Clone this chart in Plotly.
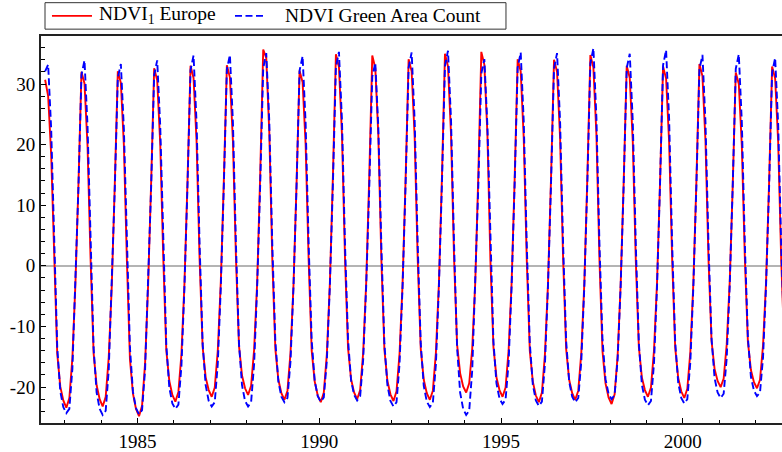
import plotly.graph_objects as go

# Monthly series, June 1982 - December 2002 (one row per year)
first_year = 1982
first_month = 6

ndvi1_europe = [
    30.7, 28.0, 18.3, 0.5, -14.5, -19.9, -22.2,                                          # 1982 (Jun-Dec)
    -23.4, -21.8, -15.2, -3.0, 13.4, 32.0, 30.1, 19.8, 1.2, -14.4, -19.7, -22.0,        # 1983
    -23.2, -21.6, -15.1, -3.4, 13.5, 32.1, 30.2, 19.9, 0.8, -15.4, -21.1, -23.6,        # 1984
    -24.8, -23.1, -16.1, -3.2, 13.7, 32.6, 30.6, 20.2, 1.4, -13.9, -19.0, -21.3,        # 1985
    -22.4, -20.8, -14.6, -2.9, 13.9, 33.0, 31.0, 20.5, 1.0, -13.4, -18.4, -20.5,        # 1986
    -21.6, -20.1, -14.0, -2.6, 14.1, 33.1, 31.1, 20.5, 1.3, -13.2, -18.1, -20.2,        # 1987
    -21.3, -19.8, -13.8, -2.8, 15.0, 35.7, 34.3, 22.1, 1.1, -13.7, -18.8, -21.0,        # 1988
    -22.1, -20.6, -14.4, -3.1, 13.5, 32.2, 30.3, 20.0, 0.9, -14.0, -19.1, -21.4,        # 1989
    -22.5, -20.9, -14.6, -2.9, 14.7, 34.9, 32.8, 21.6, 1.2, -13.6, -18.7, -20.9,        # 1990
    -22.0, -20.5, -14.3, -2.7, 14.6, 34.7, 32.6, 21.5, 1.0, -13.8, -19.0, -21.2,        # 1991
    -22.3, -20.7, -14.5, -3.0, 14.3, 34.1, 32.1, 21.1, 1.1, -13.7, -18.8, -21.0,        # 1992
    -22.1, -20.6, -14.4, -2.9, 14.7, 35.0, 32.9, 21.7, 1.3, -13.0, -17.7, -19.9,        # 1993
    -20.9, -19.4, -13.6, -2.7, 14.8, 35.3, 33.2, 21.9, 0.9, -13.4, -18.4, -20.5,        # 1994
    -21.6, -20.1, -14.0, -2.8, 14.3, 34.1, 32.1, 21.1, 1.0, -14.0, -19.1, -21.4,        # 1995
    -22.5, -20.9, -14.6, -3.1, 14.3, 34.0, 32.0, 21.1, 1.2, -13.7, -18.8, -21.0,        # 1996
    -22.1, -20.6, -14.4, -2.9, 14.6, 34.8, 32.7, 21.6, 1.0, -14.1, -19.4, -21.7,        # 1997
    -22.8, -21.2, -14.8, -3.0, 13.9, 33.0, 31.0, 20.5, 0.8, -13.4, -18.4, -20.5,        # 1998
    -21.6, -20.1, -14.0, -2.8, 13.8, 32.9, 30.9, 20.4, 1.1, -13.5, -18.5, -20.7,        # 1999
    -21.8, -20.3, -14.2, -2.8, 14.0, 33.3, 31.3, 20.6, 1.0, -12.4, -17.0, -19.0,        # 2000
    -20.0, -18.6, -13.0, -2.6, 13.4, 31.9, 30.0, 19.8, 1.2, -12.5, -17.2, -19.2,        # 2001
    -20.2, -18.8, -13.1, -2.6, 13.8, 32.9, 30.9, 20.4, 1.0, -13.0, -17.9, -20.0,        # 2002
]

ndvi_green_area_count = [
    32.1, 33.2, 22.6, 3.3, -13.4, -20.7, -23.3,                                          # 1982 (Jun-Dec)
    -24.3, -23.6, -17.0, -3.6, 12.9, 31.5, 33.9, 23.1, 3.4, -13.5, -20.9, -23.6,        # 1983
    -24.6, -23.9, -17.2, -3.7, 12.7, 31.0, 33.3, 22.6, 3.3, -13.5, -20.8, -23.5,        # 1984
    -24.5, -23.8, -17.2, -3.7, 12.9, 31.5, 33.9, 23.1, 3.4, -13.0, -20.1, -22.7,        # 1985
    -23.6, -22.9, -16.5, -3.5, 13.2, 32.3, 34.7, 23.6, 3.5, -12.8, -19.7, -22.3,        # 1986
    -23.2, -22.5, -16.2, -3.5, 13.2, 32.4, 34.8, 23.7, 3.5, -12.8, -19.7, -22.3,        # 1987
    -23.2, -22.5, -16.2, -3.5, 13.3, 32.6, 35.1, 23.9, 3.5, -12.4, -19.1, -21.6,        # 1988
    -22.5, -21.8, -15.8, -3.4, 13.1, 32.2, 34.6, 23.5, 3.5, -12.3, -19.0, -21.5,        # 1989
    -22.4, -21.7, -15.7, -3.4, 13.4, 32.8, 35.3, 24.0, 3.5, -12.2, -18.9, -21.3,        # 1990
    -22.2, -21.5, -15.5, -3.3, 12.7, 31.2, 33.5, 22.8, 3.4, -12.8, -19.7, -22.3,        # 1991
    -23.2, -22.5, -16.2, -3.5, 13.4, 32.7, 35.2, 23.9, 3.5, -12.8, -19.8, -22.4,        # 1992
    -23.3, -22.6, -16.3, -3.5, 13.5, 33.0, 35.5, 24.1, 3.6, -13.5, -20.9, -23.6,        # 1993
    -24.6, -23.9, -17.2, -3.7, 13.0, 31.7, 34.1, 23.2, 3.4, -12.5, -19.4, -21.9,        # 1994
    -22.8, -22.1, -16.0, -3.4, 13.4, 32.7, 35.2, 23.9, 3.5, -12.7, -19.6, -22.2,        # 1995
    -23.1, -22.4, -16.2, -3.5, 13.3, 32.6, 35.1, 23.9, 3.5, -12.4, -19.1, -21.6,        # 1996
    -22.5, -21.8, -15.8, -3.4, 13.6, 33.4, 35.9, 24.4, 3.6, -12.1, -18.7, -21.1,        # 1997
    -22.0, -21.3, -15.4, -3.3, 13.3, 32.6, 35.0, 23.8, 3.5, -12.7, -19.6, -22.1,        # 1998
    -23.0, -22.3, -16.1, -3.5, 13.5, 33.1, 35.6, 24.2, 3.6, -12.5, -19.3, -21.8,        # 1999
    -22.7, -22.0, -15.9, -3.4, 13.2, 32.4, 34.8, 23.7, 3.5, -12.0, -18.5, -20.9,        # 2000
    -21.8, -21.1, -15.3, -3.3, 13.3, 32.5, 34.9, 23.7, 3.5, -11.8, -18.3, -20.6,        # 2001
    -21.5, -20.9, -15.1, -3.2, 13.0, 31.9, 34.3, 23.3, 3.4, -12.1, -18.7, -21.1,        # 2002
]

year_ticks = [1985, 1990, 1995, 2000]
year_labels = ["1985", "1990", "1995", "2000"]
value_ticks = [-20, -10, 0, 10, 20, 30]
value_labels = ["-20", "-10", "0", "10", "20", "30"]

series_names = ["NDVI<sub>1</sub> Europe", "NDVI Green Area Count"]
series_colors = ["#ff0000", "#0000ff"]
series_dashes = ["solid", "7px,3.5px"]

# decimal-year time stamp at the middle of each month
t = [first_year + (first_month - 1 + i + 0.5) / 12 for i in range(len(ndvi1_europe))]

serif = "Liberation Serif, Times New Roman, serif"

fig = go.Figure()
for values, name, color, dash in zip([ndvi1_europe, ndvi_green_area_count],
                                     series_names, series_colors, series_dashes):
    fig.add_trace(go.Scatter(
        x=t, y=values, mode="lines", name=name,
        line=dict(color=color, width=1.9, dash=dash),
        showlegend=False,
    ))

# boxed key above the plot area (paper coordinates)
fig.add_shape(type="rect", xref="paper", yref="paper",
              x0=0.0054, x1=0.6275, y0=1.0177, y1=1.0861,
              line=dict(color="#333333", width=1), fillcolor="white", layer="above")
key_rows = [
    (0.0148, 0.0688, 0.0756),   # sample start, sample end, text start
    (0.2618, 0.2996, 0.3266),
]
for (s0, s1, tx), name, color, dash in zip(key_rows, series_names, series_colors, series_dashes):
    fig.add_shape(type="line", xref="paper", yref="paper",
                  x0=s0, x1=s1, y0=1.0519, y1=1.0519,
                  line=dict(color=color, width=1.9, dash=dash), layer="above")
    fig.add_annotation(xref="paper", yref="paper", x=tx, y=1.0532,
                       xanchor="left", yanchor="middle", showarrow=False,
                       text=name, font=dict(family=serif, size=19.5, color="black"))

fig.update_layout(
    width=782, height=452,
    margin=dict(l=41, r=0, t=36, b=21),
    paper_bgcolor="white", plot_bgcolor="white",
    font=dict(family=serif, size=19, color="black"),
    showlegend=False,
)

fig.update_xaxes(
    range=[1982.345, 2002.73],
    tickmode="array", tickvals=year_ticks, ticktext=year_labels,
    ticks="inside", ticklen=5, tickwidth=1, tickcolor="black",
    minor=dict(dtick=1, tick0=1982, ticks="inside", ticklen=3, tickcolor="black"),
    showline=True, linecolor="#222222", linewidth=2, mirror=True,
    showgrid=False, zeroline=False,
    tickfont=dict(family=serif, size=19, color="black"),
)
fig.update_yaxes(
    range=[-25.93, 37.92],
    tickmode="array", tickvals=value_ticks, ticktext=value_labels,
    ticks="inside", ticklen=5, tickwidth=1, tickcolor="black",
    minor=dict(dtick=2, tick0=0, ticks="inside", ticklen=4, tickcolor="black"),
    showline=True, linecolor="#222222", linewidth=2,
    showgrid=False,
    zeroline=True, zerolinecolor="#b4b4b4", zerolinewidth=2,
    tickfont=dict(family=serif, size=19, color="black"),
)

fig.write_html("out.html")
